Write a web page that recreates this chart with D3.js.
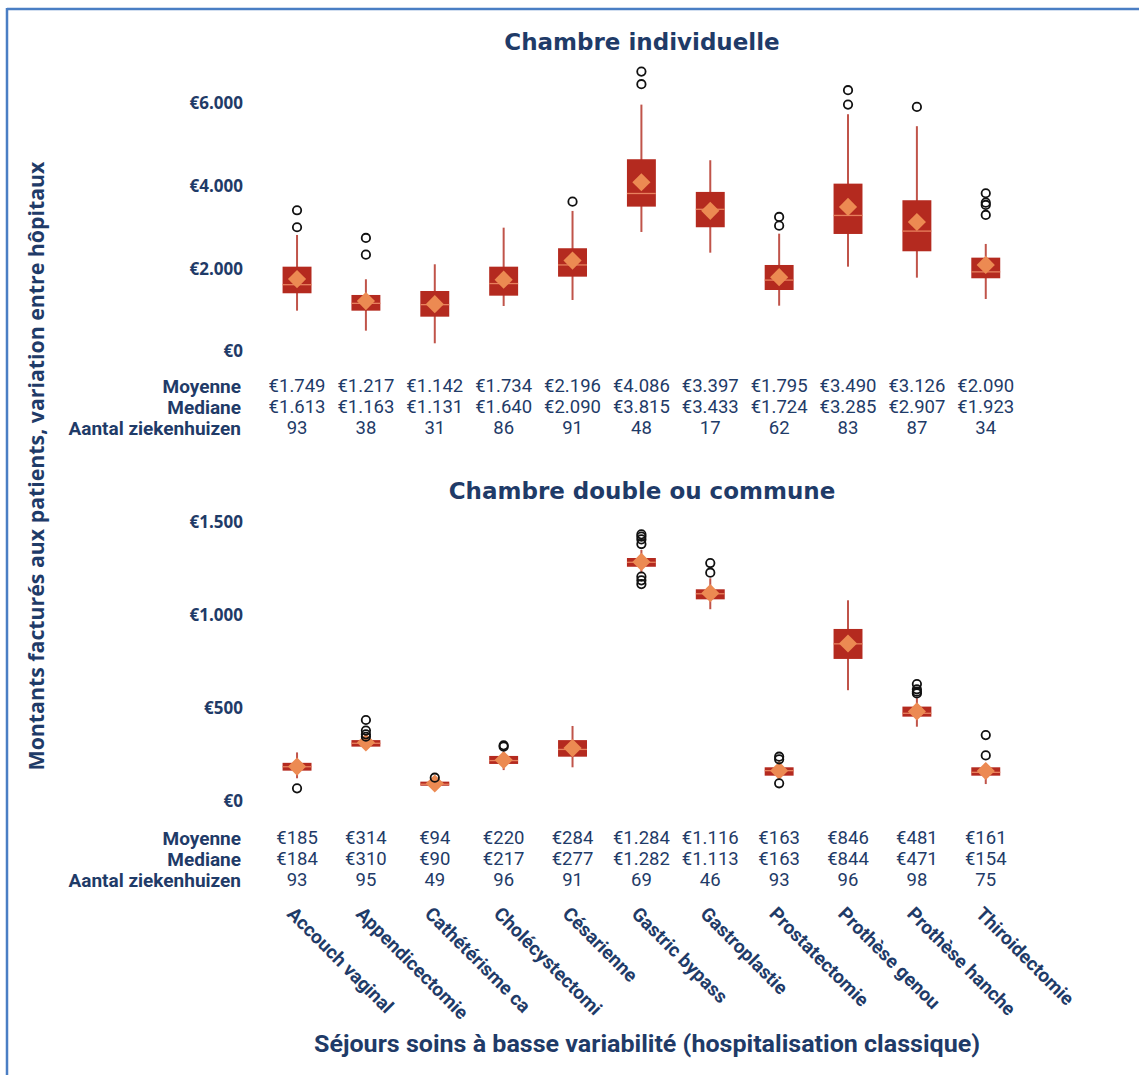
<!DOCTYPE html>
<html>
<head>
<meta charset="utf-8">
<script src="https://cdn.jsdelivr.net/npm/d3@7"></script>
<style>
  html, body { margin: 0; padding: 0; background: #fff; }
  svg { display: block; }
</style>
</head>
<body>
<svg id="chart" width="1139" height="1075"></svg>
<script>
// Categories (low-variability hospital stays)
const categories = ["Accouch vaginal", "Appendicectomie", "Cathétérisme ca", "Cholécystectomi", "Césarienne",
  "Gastric bypass", "Gastroplastie", "Prostatectomie", "Prothèse genou", "Prothèse hanche", "Thiroidectomie"];

// Single room
const meanInd = [1749, 1217, 1142, 1734, 2196, 4086, 3397, 1795, 3490, 3126, 2090];
const medInd  = [1613, 1163, 1131, 1640, 2090, 3815, 3433, 1724, 3285, 2907, 1923];
const nInd    = [93, 38, 31, 86, 91, 48, 17, 62, 83, 87, 34];
const q1Ind   = [1406, 986, 841, 1348, 1807, 3498, 3000, 1485, 2838, 2420, 1768];
const q3Ind   = [2048, 1365, 1461, 2048, 2493, 4642, 3853, 2089, 4053, 3652, 2266];
const loInd   = [986, 503, 198, 1099, 1244, 2886, 2386, 1106, 2048, 1783, 1268];
const hiInd   = [2814, 1744, 2106, 2990, 3394, 5961, 4618, 2845, 5729, 5440, 2597];
const outInd  = [[3000, 3410], [2338, 2742], [], [], [3618], [6454, 6758], [], [3039, 3249],
  [5961, 6309], [5906], [3297, 3539, 3594, 3821]];
const ticksInd = [0, 2000, 4000, 6000];

// Double or shared room
const meanDbl = [185, 314, 94, 220, 284, 1284, 1116, 163, 846, 481, 161];
const medDbl  = [184, 310, 90, 217, 277, 1282, 1113, 163, 844, 471, 154];
const nDbl    = [93, 95, 49, 96, 91, 69, 46, 93, 96, 98, 75];
const q1Dbl   = [163, 292, 82, 199, 238, 1258, 1083, 136, 763, 453, 136];
const q3Dbl   = [205, 327, 104, 242, 327, 1305, 1137, 181, 924, 507, 181];
const loDbl   = [122, 274, 70, 166, 181, 1223, 1030, 130, 595, 399, 91];
const hiDbl   = [261, 354, 120, 265, 403, 1348, 1196, 212, 1078, 552, 202];
const outDbl  = [[68], [345, 358, 378, 435], [125], [292, 299], [], [1165, 1185, 1205, 1380, 1405, 1420, 1432],
  [1226, 1278], [95, 224, 238], [], [578, 587, 600, 628], [245, 354]];
const ticksDbl = [0, 500, 1000, 1500];

const rowLabels = ["Moyenne", "Mediane", "Aantal ziekenhuizen"];
const titleInd = "Chambre individuelle";
const titleDbl = "Chambre double ou commune";
const yTitle = "Montants facturés aux patients, variation entre hôpitaux";
const xTitle = "Séjours soins à basse variabilité (hospitalisation classique)";

const navy = "#1f3b68";
const boxFill = "#b42a1f";
const whiskerCol = "#c0544a";
const medianCol = "#e8805e";
const meanCol = "#ec8a52";

const euro = d3.formatLocale({ decimal: ",", thousands: ".", grouping: [3], currency: ["€", ""] }).format("$,.0f");

const svg = d3.select("#chart");

// frame lines (top & left)
svg.append("line").attr("x1", 7).attr("x2", 1139).attr("y1", 9).attr("y2", 9)
  .attr("stroke", "#4a7ec4").attr("stroke-width", 2.5);
svg.append("line").attr("x1", 7).attr("x2", 7).attr("y1", 8).attr("y2", 1075)
  .attr("stroke", "#4a7ec4").attr("stroke-width", 2.5);

const x = d3.scaleBand().domain(categories).range([262.6, 1020.2]).padding(0);
const cx = c => x(c) + x.bandwidth() / 2;
const boxW = x.bandwidth() * 0.42;

function panel(opts) {
  const { y, title, titleY, mean, med, n, q1, q3, lo, hi, out, ticks, rowsY } = opts;
  const g = svg.append("g");

  g.append("text").attr("x", 642).attr("y", titleY).attr("text-anchor", "middle")
    .attr("font-family", "DejaVu Sans").attr("font-weight", "bold").attr("font-size", 23)
    .attr("fill", navy).text(title);

  // y axis (labels only)
  const axis = d3.axisLeft(y).tickValues(ticks).tickFormat(euro).tickSize(0).tickPadding(0);
  const ag = g.append("g").attr("transform", "translate(243,0)").call(axis);
  ag.select(".domain").remove();
  ag.selectAll("text").attr("font-family", "Open Sans").attr("font-weight", "bold")
    .attr("font-size", 17).attr("fill", navy);

  const data = categories.map((c, i) => ({ c, mean: mean[i], med: med[i], q1: q1[i], q3: q3[i], lo: lo[i], hi: hi[i], out: out[i] }));

  // whiskers
  g.selectAll(".wh").data(data).join("line")
    .attr("x1", d => cx(d.c)).attr("x2", d => cx(d.c))
    .attr("y1", d => y(d.lo)).attr("y2", d => y(d.hi))
    .attr("stroke", whiskerCol).attr("stroke-width", 2);

  // boxes
  g.selectAll(".bx").data(data).join("rect")
    .attr("x", d => cx(d.c) - boxW / 2).attr("width", boxW)
    .attr("y", d => y(d.q3)).attr("height", d => y(d.q1) - y(d.q3))
    .attr("fill", boxFill);

  // medians
  g.selectAll(".md").data(data).join("line")
    .attr("x1", d => cx(d.c) - boxW / 2).attr("x2", d => cx(d.c) + boxW / 2)
    .attr("y1", d => y(d.med)).attr("y2", d => y(d.med))
    .attr("stroke", medianCol).attr("stroke-width", 1.3);

  // means
  const diamond = d3.symbol(d3.symbolSquare, 165);
  g.selectAll(".mn").data(data).join("path")
    .attr("d", diamond)
    .attr("transform", d => `translate(${cx(d.c)},${y(d.mean)}) rotate(45)`)
    .attr("fill", meanCol);

  // outliers
  const pts = data.flatMap(d => d.out.map(v => ({ c: d.c, v })));
  g.selectAll(".ot").data(pts).join("circle")
    .attr("cx", d => cx(d.c)).attr("cy", d => y(d.v)).attr("r", 4.2)
    .attr("fill", "none").attr("stroke", "#111").attr("stroke-width", 1.8);

  // statistics rows
  const rows = [mean.map(euro), med.map(euro), n.map(String)];
  rows.forEach((vals, r) => {
    g.append("text").attr("x", 241).attr("y", rowsY[r]).attr("text-anchor", "end")
      .attr("dominant-baseline", "central")
      .attr("font-family", "Roboto").attr("font-weight", "bold").attr("font-size", 19)
      .attr("fill", navy).text(rowLabels[r]);
    g.selectAll(null).data(vals).join("text")
      .attr("x", (v, i) => cx(categories[i])).attr("y", rowsY[r])
      .attr("text-anchor", "middle").attr("dominant-baseline", "central")
      .attr("font-family", "Roboto").attr("font-size", 18.5).attr("fill", navy)
      .text(v => v);
  });
}

panel({
  y: d3.scaleLinear().domain([0, 6000]).range([351.5, 103]),
  title: titleInd, titleY: 50,
  mean: meanInd, med: medInd, n: nInd, q1: q1Ind, q3: q3Ind, lo: loInd, hi: hiInd, out: outInd,
  ticks: ticksInd, rowsY: [386, 407, 428]
});

panel({
  y: d3.scaleLinear().domain([0, 1500]).range([801, 521.7]),
  title: titleDbl, titleY: 499,
  mean: meanDbl, med: medDbl, n: nDbl, q1: q1Dbl, q3: q3Dbl, lo: loDbl, hi: hiDbl, out: outDbl,
  ticks: ticksDbl, rowsY: [838, 859, 880]
});

// category labels
svg.selectAll(".cat").data(categories).join("text")
  .attr("transform", c => `translate(${cx(c) - 11},${915}) rotate(45)`)
  .attr("font-family", "Roboto").attr("font-weight", "bold").attr("font-size", 19)
  .attr("fill", navy).text(c => c);

// axis titles
svg.append("text").attr("x", 647).attr("y", 1052).attr("text-anchor", "middle")
  .attr("font-family", "Roboto").attr("font-weight", "bold").attr("font-size", 23.5)
  .attr("textLength", 666).attr("lengthAdjust", "spacingAndGlyphs")
  .attr("fill", navy).text(xTitle);

svg.append("text").attr("transform", "translate(44,466) rotate(-90)").attr("text-anchor", "middle")
  .attr("font-family", "Open Sans").attr("font-weight", "bold").attr("font-size", 21.3)
  .attr("fill", navy).text(yTitle);
</script>
</body>
</html>
